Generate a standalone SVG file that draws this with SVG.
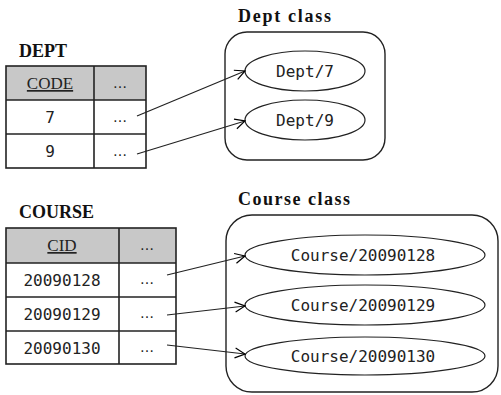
<svg xmlns="http://www.w3.org/2000/svg" width="501" height="395" viewBox="0 0 501 395">
<defs>
<marker id="arr" viewBox="0 0 12 12" refX="11" refY="6" markerWidth="12" markerHeight="12" markerUnits="userSpaceOnUse" orient="auto">
<path d="M1,1 L11,6 L1,11" fill="none" stroke="#000" stroke-width="1.2"/>
</marker>
</defs>
<style>
.title{font-family:"Liberation Serif",serif;font-weight:bold;font-size:18px;fill:#111}
.hdr{font-family:"Liberation Serif",serif;font-size:17px;fill:#222;text-decoration:underline}
.cell{font-family:"DejaVu Sans Mono",monospace;font-size:16px;fill:#222}
.dots{font-family:"DejaVu Sans",sans-serif;font-size:14px;fill:#222}
.lbl{font-family:"DejaVu Sans Mono",monospace;font-size:16px;fill:#222}
.grid{fill:none;stroke:#222;stroke-width:1.6}
.head{fill:#c8c8c8}
.cls{fill:none;stroke:#222;stroke-width:1.4}
.obj{fill:#fff;stroke:#222;stroke-width:1.2}
.conn{fill:none;stroke:#222;stroke-width:1.2;marker-end:url(#arr)}
</style>
<rect width="501" height="395" fill="#fff"/>

<g id="dept-table">
<text class="title" x="19" y="57">DEPT</text>
<rect class="head" x="6" y="66" width="140" height="34"/>
<rect class="grid" x="6" y="66" width="140" height="102"/>
<line class="grid" x1="6" y1="100" x2="146" y2="100"/>
<line class="grid" x1="6" y1="134" x2="146" y2="134"/>
<line class="grid" x1="94" y1="66" x2="94" y2="168"/>
<text class="hdr" x="50" y="89" text-anchor="middle">CODE</text>
<text class="dots" x="120" y="88" text-anchor="middle">…</text>
<text class="cell" x="50" y="123" text-anchor="middle">7</text>
<text class="dots" x="120" y="122" text-anchor="middle">…</text>
<text class="cell" x="50" y="157" text-anchor="middle">9</text>
<text class="dots" x="120" y="156" text-anchor="middle">…</text>
</g>

<g id="dept-class">
<text class="title" x="238" y="22" textLength="93" lengthAdjust="spacing">Dept class</text>
<rect class="cls" x="225" y="32" width="160" height="128" rx="22" ry="22"/>
</g>
<g id="dept-7">
<ellipse class="obj" cx="305" cy="71" rx="60" ry="20"/>
<text class="lbl" x="305" y="77" text-anchor="middle">Dept/7</text>
</g>
<g id="dept-9">
<ellipse class="obj" cx="305" cy="120" rx="60" ry="20"/>
<text class="lbl" x="305" y="126" text-anchor="middle">Dept/9</text>
</g>

<g id="course-table">
<text class="title" x="19" y="218">COURSE</text>
<rect class="head" x="6" y="228" width="170" height="35"/>
<rect class="grid" x="6" y="228" width="170" height="136"/>
<line class="grid" x1="6" y1="263" x2="176" y2="263"/>
<line class="grid" x1="6" y1="297" x2="176" y2="297"/>
<line class="grid" x1="6" y1="331" x2="176" y2="331"/>
<line class="grid" x1="119" y1="228" x2="119" y2="364"/>
<text class="hdr" x="62" y="251" text-anchor="middle">CID</text>
<text class="dots" x="147" y="250" text-anchor="middle">…</text>
<text class="cell" x="62" y="286" text-anchor="middle">20090128</text>
<text class="dots" x="147" y="284" text-anchor="middle">…</text>
<text class="cell" x="62" y="320" text-anchor="middle">20090129</text>
<text class="dots" x="147" y="318" text-anchor="middle">…</text>
<text class="cell" x="62" y="354" text-anchor="middle">20090130</text>
<text class="dots" x="147" y="352" text-anchor="middle">…</text>
</g>

<g id="course-class">
<text class="title" x="238" y="205" textLength="112" lengthAdjust="spacing">Course class</text>
<rect class="cls" x="226" y="215" width="272" height="177" rx="26" ry="26"/>
</g>
<g id="course-20090128">
<ellipse class="obj" cx="365" cy="255" rx="120" ry="20"/>
<text class="lbl" x="363" y="261" text-anchor="middle">Course/20090128</text>
</g>
<g id="course-20090129">
<ellipse class="obj" cx="365" cy="305" rx="120" ry="20"/>
<text class="lbl" x="363" y="311" text-anchor="middle">Course/20090129</text>
</g>
<g id="course-20090130">
<ellipse class="obj" cx="365" cy="356" rx="120" ry="19"/>
<text class="lbl" x="363" y="362" text-anchor="middle">Course/20090130</text>
</g>

<g id="connectors">
<line class="conn" x1="137" y1="116" x2="245" y2="71"/>
<line class="conn" x1="137" y1="154" x2="245" y2="121"/>
<line class="conn" x1="167" y1="275" x2="245" y2="256"/>
<line class="conn" x1="167" y1="315" x2="245" y2="306"/>
<line class="conn" x1="167" y1="345" x2="245" y2="354"/>
</g>
</svg>
